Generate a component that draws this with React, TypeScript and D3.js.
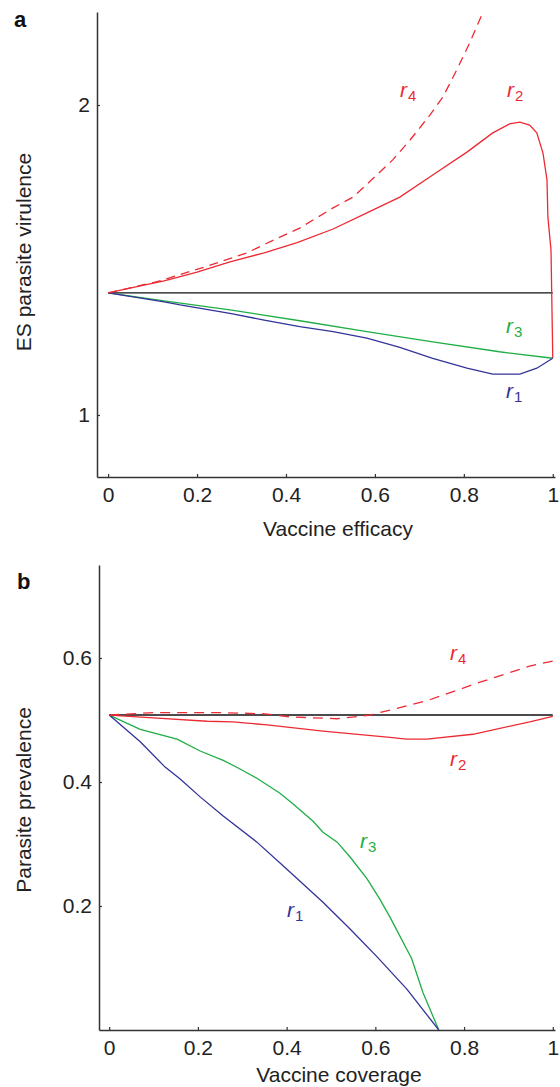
import * as d3 from "d3";
import { useEffect, useRef } from "react";

// panel a: ES parasite virulence vs vaccine efficacy
const effR1 = [0, 0.126, 0.162, 0.274, 0.351, 0.431, 0.506, 0.582, 0.656, 0.73, 0.807, 0.865, 0.926, 0.964, 1.0];
const virR1 = [1.394, 1.365, 1.355, 1.328, 1.306, 1.285, 1.269, 1.248, 1.218, 1.183, 1.151, 1.132, 1.132, 1.151, 1.183];
const effR2 = [0, 0.049, 0.126, 0.2, 0.274, 0.351, 0.425, 0.506, 0.582, 0.656, 0.73, 0.807, 0.865, 0.903, 0.926, 0.948, 0.964, 0.978, 0.987, 0.989, 0.996, 1.0];
const virR2 = [1.394, 1.409, 1.433, 1.461, 1.494, 1.523, 1.556, 1.6, 1.652, 1.703, 1.774, 1.848, 1.91, 1.939, 1.945, 1.935, 1.91, 1.845, 1.758, 1.639, 1.532, 1.184];
const effR3 = [0, 0.126, 0.274, 0.431, 0.582, 0.73, 0.88, 1.0];
const virR3 = [1.394, 1.368, 1.339, 1.304, 1.269, 1.236, 1.204, 1.183];
const effR4 = [0, 0.11, 0.216, 0.312, 0.373, 0.431, 0.506, 0.551, 0.604, 0.64, 0.679, 0.724, 0.753, 0.784, 0.813, 0.84];
const virR4 = [1.394, 1.43, 1.477, 1.523, 1.565, 1.603, 1.668, 1.703, 1.774, 1.823, 1.887, 1.968, 2.026, 2.113, 2.2, 2.29];
const virBase = 1.394;

// panel b: parasite prevalence vs vaccine coverage
const covR1 = [0, 0.07, 0.126, 0.16, 0.205, 0.257, 0.333, 0.392, 0.482, 0.543, 0.604, 0.671, 0.743];
const prevR1 = [0.508, 0.465, 0.424, 0.405, 0.376, 0.345, 0.303, 0.265, 0.206, 0.163, 0.118, 0.066, 0];
const covR2 = [0, 0.108, 0.221, 0.279, 0.356, 0.482, 0.633, 0.671, 0.716, 0.82, 0.948, 1.0];
const prevR2 = [0.508, 0.503, 0.498, 0.497, 0.492, 0.482, 0.472, 0.469, 0.469, 0.477, 0.497, 0.506];
const covR3 = [0, 0.07, 0.153, 0.205, 0.257, 0.295, 0.333, 0.385, 0.414, 0.459, 0.482, 0.514, 0.543, 0.581, 0.61, 0.633, 0.682, 0.707, 0.743];
const prevR3 = [0.508, 0.485, 0.469, 0.45, 0.435, 0.421, 0.406, 0.382, 0.365, 0.337, 0.319, 0.303, 0.279, 0.244, 0.211, 0.182, 0.115, 0.061, 0];
const covR4 = [0, 0.1, 0.25, 0.35, 0.408, 0.514, 0.588, 0.716, 0.836, 0.948, 1.0];
const prevR4 = [0.508, 0.512, 0.512, 0.51, 0.505, 0.502, 0.508, 0.531, 0.561, 0.587, 0.595];
const prevBase = 0.508;

const xTicks = [0, 0.2, 0.4, 0.6, 0.8, 1];
const aYTicks = [1, 2];
const bYTicks = [0.2, 0.4, 0.6];

const RED = "#ec2a34";
const BLUE = "#33339a";
const GREEN = "#1fae45";
const AXIS = "#333";
const FONT = "'Liberation Sans', Arial, Helvetica, sans-serif";
const FS = 21;

const zip = (xs: number[], ys: number[]) => xs.map((x, i) => [x, ys[i]] as [number, number]);

export default function App() {
  const ref = useRef<SVGSVGElement | null>(null);

  useEffect(() => {
    if (!ref.current) return;
    const svg = d3.select(ref.current);
    svg.selectAll("*").remove();

    const panel = (opts: {
      x: d3.ScaleLinear<number, number>;
      y: d3.ScaleLinear<number, number>;
      yTicks: number[];
      series: { pts: [number, number][]; color: string; dash?: string }[];
      base: number;
      labels: { x: number; y: number; sub: string; color: string }[];
      letter: string;
      letterPos: [number, number];
      xTitle: string;
      xTitleY: number;
      yTitle: string;
      yTitleX: number;
      yTitleY: number;
      id: string;
    }) => {
      const { x, y } = opts;
      const [x0, x1] = x.range();
      const [y0, y1] = y.range();
      const g = svg.append("g");

      g.append("clipPath")
        .attr("id", opts.id)
        .append("rect")
        .attr("x", x0)
        .attr("y", y1)
        .attr("width", x1 - x0)
        .attr("height", y0 - y1);

      const line = d3
        .line<[number, number]>()
        .x((d) => x(d[0]))
        .y((d) => y(d[1]));

      g.append("path")
        .attr("d", line([[0, opts.base], [1, opts.base]]))
        .attr("fill", "none")
        .attr("stroke", "#111")
        .attr("stroke-width", 1.4);

      g.append("g")
        .attr("clip-path", `url(#${opts.id})`)
        .selectAll("path")
        .data(opts.series)
        .join("path")
        .attr("d", (d) => line(d.pts))
        .attr("fill", "none")
        .attr("stroke", (d) => d.color)
        .attr("stroke-width", 1.3)
        .attr("stroke-dasharray", (d) => d.dash ?? null);

      // axes
      const xAxis = d3
        .axisBottom(x)
        .tickValues(xTicks)
        .tickFormat(d3.format("~g"))
        .tickSizeInner(-3)
        .tickSizeOuter(0)
        .tickPadding(10);
      const yAxis = d3
        .axisLeft(y)
        .tickValues(opts.yTicks)
        .tickFormat(d3.format("~g"))
        .tickSizeInner(-3)
        .tickSizeOuter(0)
        .tickPadding(7);

      const gx = g.append("g").attr("transform", `translate(0,${y0})`).call(xAxis);
      const gy = g.append("g").attr("transform", `translate(${x0},0)`).call(yAxis);
      [gx, gy].forEach((a) => {
        a.select(".domain").attr("stroke", AXIS).attr("stroke-width", 1.5);
        a.selectAll(".tick line").attr("stroke", AXIS).attr("stroke-width", 1.2);
        a.selectAll("text").attr("font-size", FS).attr("font-family", FONT).attr("fill", "#222");
      });

      g.append("text")
        .attr("x", (x0 + x1) / 2 + 12)
        .attr("y", opts.xTitleY)
        .attr("text-anchor", "middle")
        .attr("font-size", FS)
        .attr("font-family", FONT)
        .attr("fill", "#222")
        .text(opts.xTitle);

      g.append("text")
        .attr("transform", `translate(${opts.yTitleX},${opts.yTitleY}) rotate(-90)`)
        .attr("text-anchor", "middle")
        .attr("font-size", FS)
        .attr("font-family", FONT)
        .attr("fill", "#222")
        .text(opts.yTitle);

      g.append("text")
        .attr("x", opts.letterPos[0])
        .attr("y", opts.letterPos[1])
        .attr("font-size", 22)
        .attr("font-weight", "bold")
        .attr("font-family", FONT)
        .attr("fill", "#111")
        .text(opts.letter);

      const lab = g
        .selectAll("text.lab")
        .data(opts.labels)
        .join("text")
        .attr("class", "lab")
        .attr("x", (d) => d.x)
        .attr("y", (d) => d.y)
        .attr("font-family", FONT)
        .attr("fill", (d) => d.color);
      lab.append("tspan").attr("font-size", FS).attr("font-style", "italic").text("r");
      lab
        .append("tspan")
        .attr("font-size", 15)
        .attr("dy", 4)
        .attr("dx", 1)
        .text((d) => d.sub);
    };

    panel({
      id: "clipA",
      x: d3.scaleLinear().domain([-0.025, 1.005]).range([97, 555]),
      y: d3.scaleLinear().domain([0.8, 2.3]).range([477, 12]),
      yTicks: aYTicks,
      base: virBase,
      series: [
        { pts: zip(effR3, virR3), color: GREEN },
        { pts: zip(effR1, virR1), color: BLUE },
        { pts: zip(effR2, virR2), color: RED },
        { pts: zip(effR4, virR4), color: RED, dash: "9 6" },
      ],
      labels: [
        { x: 400, y: 97, sub: "4", color: RED },
        { x: 507, y: 97, sub: "2", color: RED },
        { x: 506, y: 333, sub: "3", color: GREEN },
        { x: 506, y: 398, sub: "1", color: BLUE },
      ],
      letter: "a",
      letterPos: [14, 27],
      xTitle: "Vaccine efficacy",
      xTitleY: 536,
      yTitle: "ES parasite virulence",
      yTitleX: 31,
      yTitleY: 252,
    });

    panel({
      id: "clipB",
      x: d3.scaleLinear().domain([-0.023, 1.005]).range([99, 555]),
      y: d3.scaleLinear().domain([0, 0.75]).range([1030, 565]),
      yTicks: bYTicks,
      base: prevBase,
      series: [
        { pts: zip(covR3, prevR3), color: GREEN },
        { pts: zip(covR1, prevR1), color: BLUE },
        { pts: zip(covR2, prevR2), color: RED },
        { pts: zip(covR4, prevR4), color: RED, dash: "10 7" },
      ],
      labels: [
        { x: 450, y: 660, sub: "4", color: RED },
        { x: 450, y: 766, sub: "2", color: RED },
        { x: 360, y: 848, sub: "3", color: GREEN },
        { x: 287, y: 917, sub: "1", color: BLUE },
      ],
      letter: "b",
      letterPos: [17, 589],
      xTitle: "Vaccine coverage",
      xTitleY: 1082,
      yTitle: "Parasite prevalence",
      yTitleX: 31,
      yTitleY: 800,
    });
  }, []);

  return (
    <svg
      ref={ref}
      width={560}
      height={1087}
      viewBox="0 0 560 1087"
      style={{ position: "absolute", left: 0, top: 0, background: "#fff" }}
    />
  );
}
